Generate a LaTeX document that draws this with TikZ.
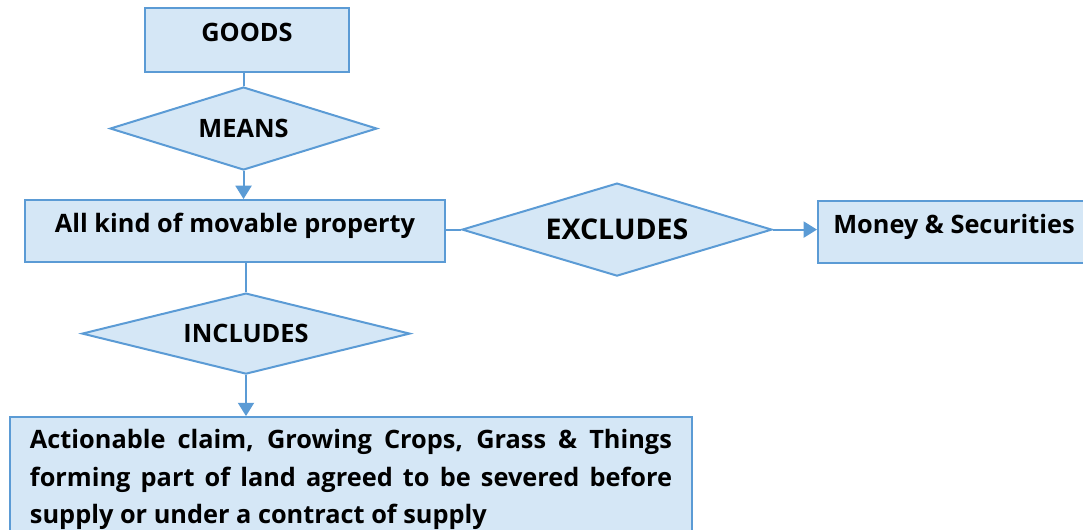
\documentclass[tikz,border=0pt]{standalone}
\usepackage{fontspec}
\setmainfont{Open Sans}
\usepackage{tikz}
\usetikzlibrary{shapes.geometric}
\usetikzlibrary{positioning}
\usetikzlibrary{arrows.meta}
\definecolor{boxfill}{RGB}{213,231,246}
\definecolor{boxline}{RGB}{91,155,213}

\begin{document}
\begin{tikzpicture}
	[node distance={76.9pt}, line width=1.5pt, >={Triangle[length=10pt,width=12pt]},
	box/.style = {draw=boxline, fill=boxfill, font=\bfseries\fontsize{19pt}{22pt}\selectfont, text height=13.6pt, text depth=11.5pt, inner sep=0pt},
	choice/.style = {draw=boxline, fill=boxfill, diamond, aspect=3, font=\bfseries\fontsize{19pt}{22pt}\selectfont, text height=13.6pt, text depth=0pt, inner sep=0pt},
	note/.style = {draw=boxline, fill=boxfill, font=\bfseries\fontsize{19pt}{28.1pt}\selectfont, align=justify, inner xsep=15pt, inner ysep=9.4pt}]
	\useasboundingbox (-185.25pt,-367.5pt) rectangle (627pt,30pt);
	\node[box, minimum width=153pt, minimum height=48pt] (goods) {GOODS};
	\node[choice, minimum width=200.25pt, minimum height=62.25pt] (means) [below of = goods, node distance={66.4pt}, xshift=-2.6pt] {MEANS};
	\node[box, minimum width=315pt, minimum height=46.5pt] (movable) [below of = means, xshift=-6.4pt] {All kind of movable property};
	\node[choice, minimum width=232.5pt, minimum height=69.75pt, font=\bfseries\fontsize{21.4pt}{25pt}\selectfont, text height=15.3pt] (excludes) [right of = movable, node distance={286.5pt}, yshift=1.1pt] {EXCLUDES};
	\node[box, minimum width=204pt, minimum height=46.5pt] (money) [right of = excludes, node distance={252.75pt}, yshift=-1.9pt] {Money \& Securities};
	\node[choice, minimum width=246pt, minimum height=60.75pt] (includes) [below of = movable, xshift=8.25pt] {INCLUDES};
	\node[note, text width=481.5pt] (claims) [below = 30.75pt of includes, xshift=78.75pt] {Actionable claim, Growing Crops, Grass \& Things\linebreak forming part of land agreed to be severed before\linebreak supply or under a contract of supply};
	\draw[boxline] (goods.south -| means) -- (means.north);
	\draw[->, boxline] (means.south) -- (means.south |- movable.north);
	\draw[boxline] (excludes.west -| movable.east) -- (excludes.west);
	\draw[->, boxline] (excludes.east) -- (excludes.east -| money.west);
	\draw[boxline] (movable.south -| includes) -- (includes.north);
	\draw[->, boxline] (includes.south) -- (includes.south |- claims.north);
\end{tikzpicture}
\end{document}
